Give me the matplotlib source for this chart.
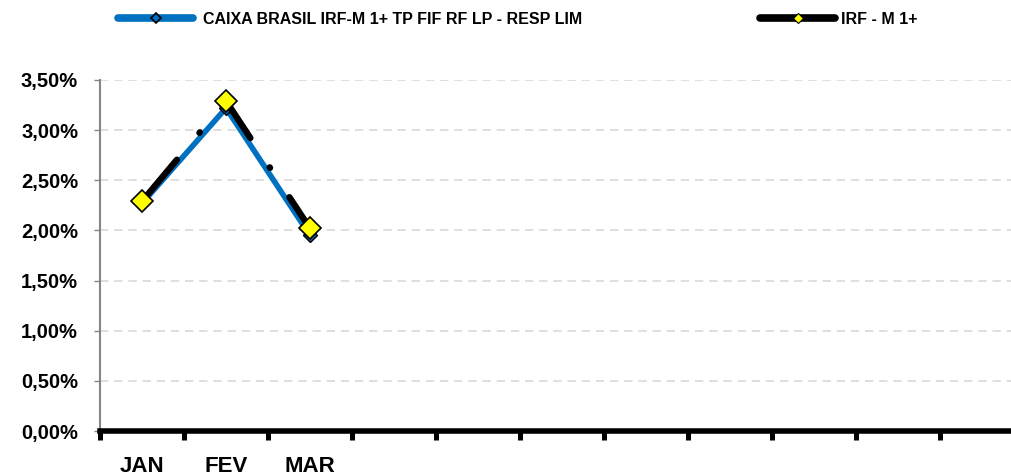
import matplotlib
matplotlib.use("Agg")
import matplotlib.pyplot as plt
from matplotlib.lines import Line2D
from matplotlib.ticker import FixedLocator, FuncFormatter

# dados (% ao mês)
meses = ["JAN", "FEV", "MAR"]
caixa = [2.27, 3.22, 1.95]
irfm = [2.29, 3.29, 2.02]
nome_caixa = "CAIXA BRASIL IRF-M 1+ TP FIF RF LP - RESP LIM"
nome_irfm = "IRF - M 1+"
yticks = [0.0, 0.5, 1.0, 1.5, 2.0, 2.5, 3.0, 3.5]

AZUL = "#0070C0"
plt.rcParams["font.family"] = ["Liberation Sans", "DejaVu Sans"]
plt.rcParams["font.weight"] = "bold"

fig = plt.figure(figsize=(10.11, 4.76), dpi=100)
ax = fig.add_axes((100 / 1011, 45 / 476, 911 / 1011, 351 / 476))

x = list(range(len(meses)))
ax.plot(x, caixa, color=AZUL, lw=4.0, marker="D", ms=7,
        mfc="#1F5FA8", mec="black", mew=1, zorder=3)
ax.plot(x, irfm, color="black", lw=4.6, solid_capstyle="round",
        dash_capstyle="round", linestyle=(18.2, (7.8, 5.5, 0.1, 5.5)),
        zorder=4)
ax.plot(x, irfm, linestyle="none", marker="D", ms=11.5, mfc="#FFFF00",
        mec="black", mew=1.2, zorder=5)

ax.set_xlim(-0.5, -0.5 + 911 / 84)
ax.set_ylim(0, 3.5)

# eixo y
ax.yaxis.set_major_locator(FixedLocator(yticks))
ax.yaxis.set_major_formatter(FuncFormatter(lambda v, p: f"{v:.2f}%".replace(".", ",")))
ax.tick_params(axis="y", direction="out", length=4.3, width=1, color="#868686",
               pad=11.5, labelsize=14.5)
for lbl in ax.get_yticklabels():
    lbl.set_fontweight("bold")
ax.grid(axis="y", color="#d9d9d9", lw=1.2, linestyle=(0, (5, 3.5)))
ax.set_axisbelow(True)

# eixo x: marcas nas divisões, rótulos no centro
ax.xaxis.set_major_locator(FixedLocator([k - 0.5 for k in range(11)]))
ax.xaxis.set_major_formatter(FuncFormatter(lambda v, p: ""))
ax.xaxis.set_minor_locator(FixedLocator(x))
ax.set_xticklabels(meses, minor=True, fontsize=16, fontweight="bold")
ax.tick_params(axis="x", which="major", direction="out", length=6.5, width=3.6,
               color="black")
ax.tick_params(axis="x", which="minor", length=0, pad=18)

for s in ["top", "right"]:
    ax.spines[s].set_visible(False)
ax.spines["left"].set_color("#868686")
ax.spines["left"].set_linewidth(1.5)
ax.spines["bottom"].set_color("black")
ax.spines["bottom"].set_linewidth(4)
ax.spines["bottom"].set_zorder(6)

# legenda
h1 = Line2D([], [], color=AZUL, lw=5.5, solid_capstyle="round", marker="D",
            ms=5, mfc=AZUL, mec="black", mew=1.2)
h2 = Line2D([], [], color="black", lw=5.5, solid_capstyle="round", marker="D",
            ms=5, mfc="#FFFF00", mec="black", mew=0.8)
leg1 = fig.legend([h1], [nome_caixa], loc="center left",
                  bbox_to_anchor=(118 / 1011, 1 - 19 / 476), frameon=False,
                  borderpad=0, borderaxespad=0, handlelength=4.7,
                  handletextpad=0.6, prop={"size": 11.5, "weight": "bold"})
leg2 = fig.legend([h2], [nome_irfm], loc="center left",
                  bbox_to_anchor=(760 / 1011, 1 - 19 / 476), frameon=False,
                  borderpad=0, borderaxespad=0, handlelength=4.7,
                  handletextpad=0.35, prop={"size": 11.5, "weight": "bold"})

fig.savefig("out.png", dpi=100)
